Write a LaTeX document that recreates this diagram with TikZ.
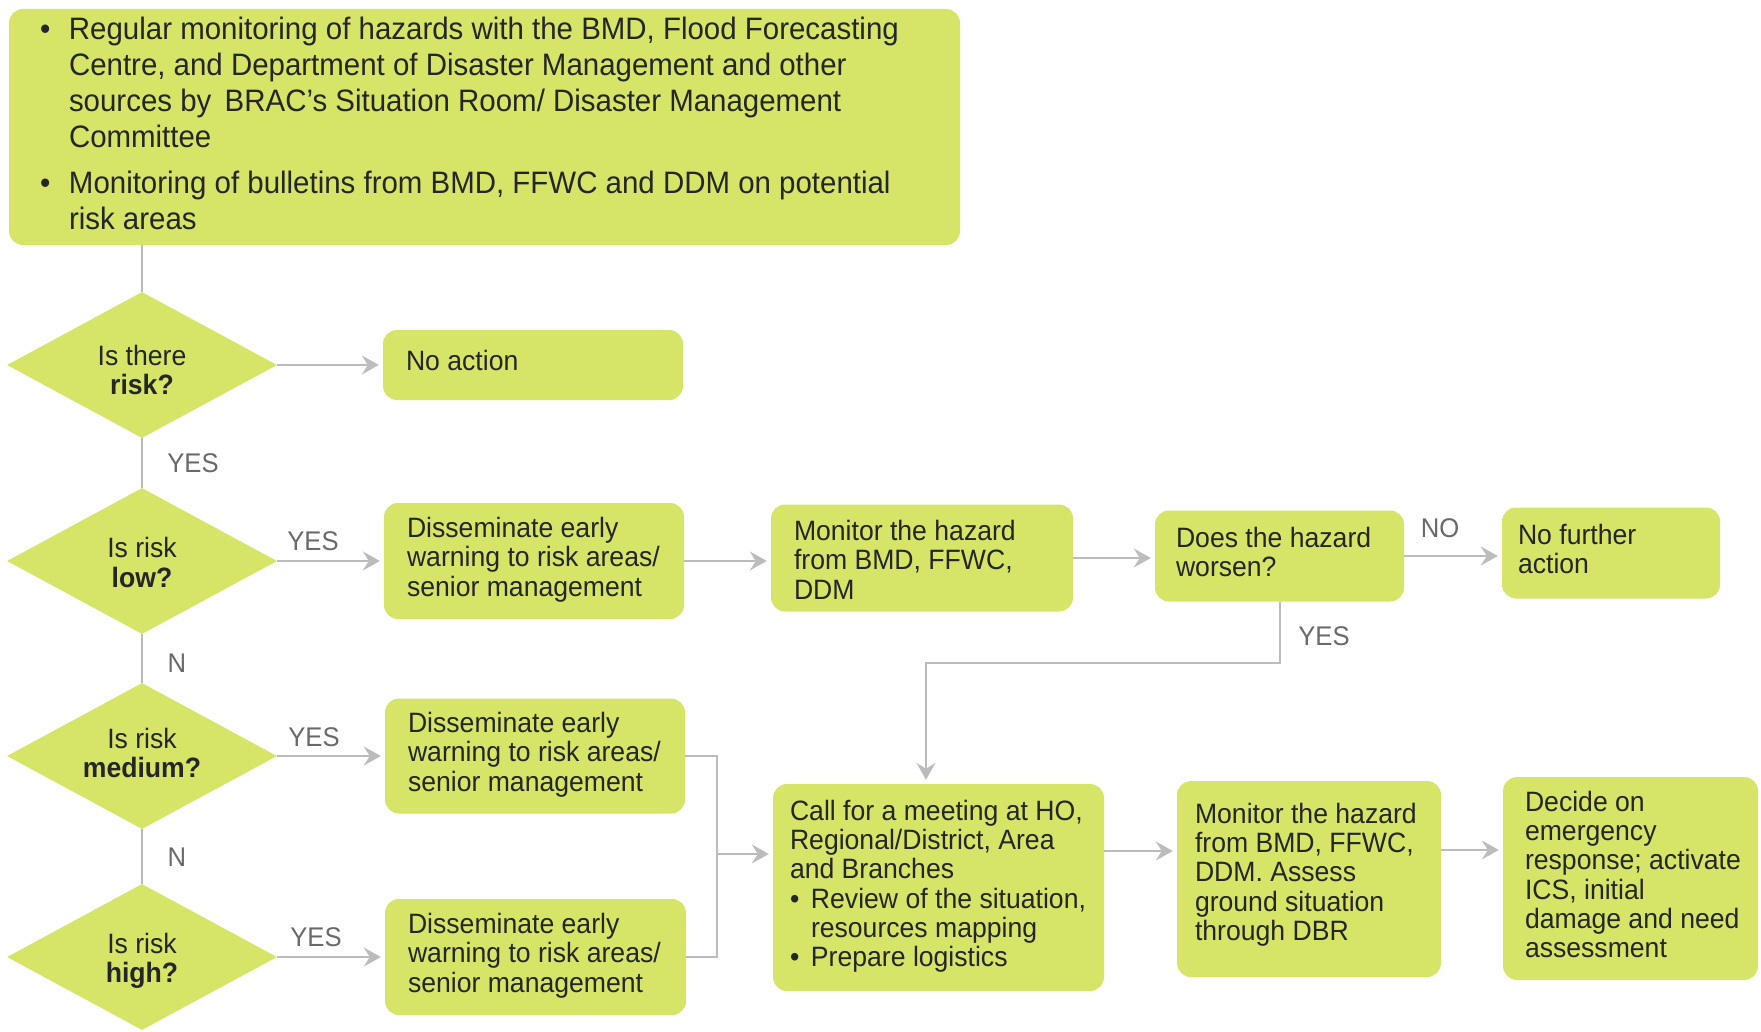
\documentclass[tikz,border=0pt]{standalone}
\usepackage{fontspec}
\setmainfont{Liberation Sans}[FakeStretch=0.95]
\usetikzlibrary{shapes.geometric,arrows.meta}

\definecolor{boxfill}{RGB}{214,228,104}
\definecolor{ink}{RGB}{38,38,38}
\definecolor{wire}{RGB}{188,188,188}
\definecolor{lblgray}{RGB}{105,105,105}

% fixed-width, left-aligned text block that never wraps
\newcommand\tb[2]{\makebox[#1][l]{\begin{tabular}{@{}l@{}}#2\end{tabular}}}
\newcommand\bul[1]{\makebox[#1][l]{•}}
% shift content vertically while keeping its reported size
\newcommand\nudge[2]{\raisebox{#1}[\height][\depth]{#2}}
% two-line question, nudged vertically
\newcommand\qtext[3]{\nudge{#1}{\begin{tabular}{@{}c@{}}#2\\\textbf{#3}\end{tabular}}}

\tikzset{
  box/.style={fill=boxfill, draw=none, rounded corners=14pt, inner sep=0pt,
              text=ink, font=\fontsize{28}{29.3}\selectfont},
  topbox/.style={box, font=\fontsize{31}{36}\selectfont},
  decision/.style={diamond, fill=boxfill, draw=none, inner sep=0pt, aspect=1.85,
              minimum width=270pt, minimum height=146pt, text=ink,
              font=\fontsize{28}{29.3}\selectfont},
  wireline/.style={draw=wire, line width=2pt},
  arrowline/.style={wireline, -{Stealth[length=17pt,width=19pt,inset=6pt]}, shorten >=4pt},
  tag/.style={text=lblgray, font=\fontsize{27}{27}\selectfont, inner sep=0pt}
}

\begin{document}
\begin{tikzpicture}[x=1pt, y=-1pt]
\useasboundingbox (0,0) rectangle (1761,1032);

% monitoring box
\node[topbox, minimum width=951pt, minimum height=236pt] (top) at (484.5,127)
  {\tb{883pt}{\hspace*{-3pt}\bul{29pt}Regular monitoring of hazards with the BMD, Flood Forecasting\\
   \hspace*{26pt}Centre, and Department of Disaster Management and other\\
   \hspace*{26pt}sources by\, BRAC’s Situation Room/ Disaster Management\\
   \hspace*{26pt}Committee\\[10pt]
   \hspace*{-3pt}\bul{29pt}Monitoring of bulletins from BMD, FFWC and DDM on potential\\
   \hspace*{26pt}risk areas}};

% decisions
\node[decision] (d1) at (142,365) {\qtext{-9.4pt}{Is there}{risk?}};
\node[decision] (d2) at (142,561) {\qtext{-5.6pt}{Is risk}{low?}};
\node[decision] (d3) at (142,756) {\qtext{-1.4pt}{Is risk}{medium?}};
\node[decision] (d4) at (142,957) {\qtext{-5pt}{Is risk}{high?}};

% action boxes
\node[box, minimum width=300pt, minimum height=70pt] (na) at (533,365)
  {\tb{254pt}{No action}};
\node[box, minimum width=300pt, minimum height=116pt] (low) at (534,561)
  {\tb{254pt}{Disseminate early\\warning to risk areas/\\senior management}};
\node[box, minimum width=302pt, minimum height=107pt] (mon) at (922,558)
  {\nudge{-6pt}{\tb{256pt}{Monitor the hazard\\from BMD, FFWC,\\DDM}}};
\node[box, minimum width=249pt, minimum height=91pt] (wor) at (1279.5,556)
  {\tb{207pt}{Does the hazard\\worsen?}};
\node[box, minimum width=218pt, minimum height=91pt] (nf) at (1611,553)
  {\tb{186pt}{No further\\action}};
\node[box, minimum width=300pt, minimum height=115pt] (med) at (535,756)
  {\tb{254pt}{Disseminate early\\warning to risk areas/\\senior management}};
\node[box, minimum width=301pt, minimum height=116pt] (high) at (535.5,957)
  {\tb{255pt}{Disseminate early\\warning to risk areas/\\senior management}};
\node[box, minimum width=331pt, minimum height=207pt] (meet) at (938.5,887.5)
  {\tb{297pt}{Call for a meeting at HO,\\Regional/District, Area\\and Branches\\
   \bul{21pt}Review of the situation,\\\hspace*{21pt}resources mapping\\
   \bul{21pt}Prepare logistics}};
\node[box, minimum width=264pt, minimum height=196pt] (mon2) at (1309,879)
  {\tb{228pt}{Monitor the hazard\\from BMD, FFWC,\\DDM. Assess\\ground situation\\through DBR\\[6pt]}};
\node[box, minimum width=255pt, minimum height=203pt] (dec) at (1630.5,878.5)
  {\tb{211pt}{Decide on\\emergency\\response; activate\\ICS, initial\\damage and need\\assessment}};

% connectors down the decision column
\draw[wireline] (d1.north |- top.south) -- (d1.north);
\draw[wireline] (d1.south) -- (d2.north);
\draw[wireline] (d2.south) -- (d3.north);
\draw[wireline] (d3.south) -- (d4.north);
\node[tag] (t1) at (193,463) {YES};
\node[tag] (t2) at (177,663) {N};
\node[tag] (t3) at (177,857) {N};

% decision outcomes
\draw[arrowline] (d1.east) -- (d1.east -| na.west);
\draw[arrowline] (d2.east) -- (d2.east -| low.west);
\draw[arrowline] (d3.east) -- (d3.east -| med.west);
\draw[arrowline] (d4.east) -- (d4.east -| high.west);
\node[tag] (t4) at (313,541) {YES};
\node[tag] (t5) at (314,737) {YES};
\node[tag] (t6) at (316,937) {YES};

% low-risk branch
\draw[arrowline] (low.east) -- (low.east -| mon.west);
\draw[arrowline] (mon.east) -- (mon.east -| wor.west);
\draw[arrowline] (wor.east) -- (wor.east -| nf.west);
\node[tag] (t7) at (1440,528) {NO};
\coordinate (bend) at (926,663);
\draw[arrowline] (wor.south) |- (bend) -- (bend |- meet.north);
\node[tag] (t8) at (1324,636) {YES};

% medium / high risk merge into the meeting
\coordinate (join) at (717,854);
\draw[wireline] (med.east) -| (join) |- (high.east);
\draw[arrowline] (join) -- (join -| meet.west);

% escalation chain
\coordinate (e1) at (1104,851);
\coordinate (e2) at (1441,850);
\draw[arrowline] (e1) -- (e1 -| mon2.west);
\draw[arrowline] (e2) -- (e2 -| dec.west);
\end{tikzpicture}
\end{document}
